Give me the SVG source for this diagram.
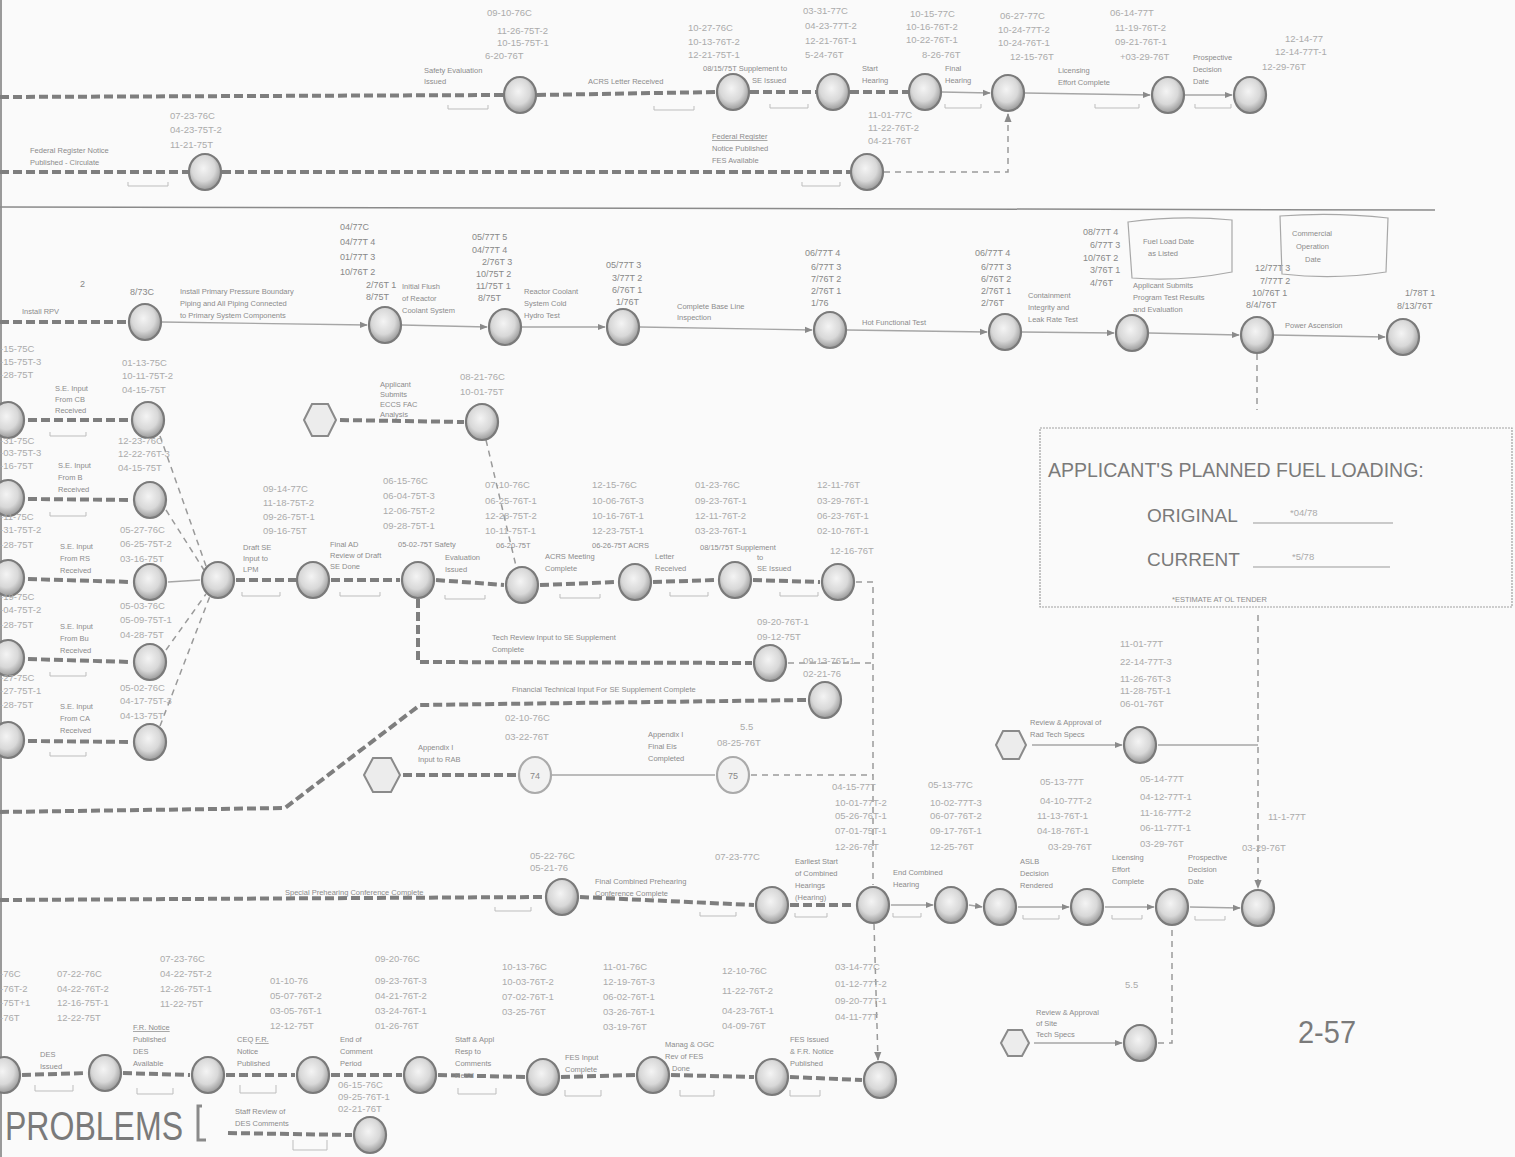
<svg xmlns="http://www.w3.org/2000/svg" width="1515" height="1157" viewBox="0 0 1515 1157">
<defs>
<radialGradient id="g" cx="45%" cy="40%" r="60%">
<stop offset="0" stop-color="#f4f4f4"/><stop offset="0.6" stop-color="#d8d8d8"/><stop offset="1" stop-color="#9a9a9a"/>
</radialGradient>
<marker id="ar" viewBox="0 0 10 10" refX="9" refY="5" markerWidth="6" markerHeight="6" orient="auto"><path d="M0,1 L10,5 L0,9 z" fill="#8a8a8a"/></marker>
<style>
.crit{fill:none;stroke:#7e7e7e;stroke-width:4;stroke-dasharray:9 4}
.thin{fill:none;stroke:#a6a6a6;stroke-width:1.3}
.dsh{fill:none;stroke:#9a9a9a;stroke-width:1.5;stroke-dasharray:6 5}
.br{fill:none;stroke:#bdbdbd;stroke-width:1}
.nd{fill:url(#g);stroke:#7a7a7a;stroke-width:2.2}
.hx{fill:#ececec;stroke:#8a8a8a;stroke-width:2}
.t{font-family:"Liberation Sans",Arial,sans-serif;font-size:7.5px;fill:#8c8c8c}
.d{font-family:"Liberation Sans Narrow","Liberation Sans",Arial,sans-serif;font-size:9.5px;fill:#ababab}
.n{font-family:"Liberation Sans",Arial,sans-serif;font-size:9px;fill:#888}
.big{font-family:"Liberation Sans",Arial,sans-serif;fill:#7a7a7a}
</style>
</defs>
<rect width="1515" height="1157" fill="#fafafa"/>
<line x1="1" y1="0" x2="1" y2="1157" stroke="#9a9a9a" stroke-width="2"/>

<g id="connectors">
<path class="crit" d="M0 97 L503 95"/>
<path class="crit" d="M537 95 L716 92"/>
<path class="crit" d="M750 92 L816 92"/>
<path class="crit" d="M850 92 L908 92"/>
<path class="thin" d="M942 92 L990 93" marker-end="url(#ar)"/>
<path class="thin" d="M1025 93 L1150 95" marker-end="url(#ar)"/>
<path class="thin" d="M1185 95 L1232 95" marker-end="url(#ar)"/>
<path class="crit" d="M0 172 L188 172"/>
<path class="crit" d="M222 172 L850 172"/>
<path class="dsh" d="M884 172 L1008 172 L1008 114" marker-end="url(#ar)"/>
<line x1="0" y1="207" x2="1435" y2="210" stroke="#8a8a8a" stroke-width="1.5"/>
<path class="crit" d="M0 322 L128 322"/>
<path class="thin" d="M162 322 L367 325" marker-end="url(#ar)"/>
<path class="thin" d="M402 325 L487 327" marker-end="url(#ar)"/>
<path class="thin" d="M522 327 L605 327" marker-end="url(#ar)"/>
<path class="thin" d="M640 327 L812 330" marker-end="url(#ar)"/>
<path class="thin" d="M847 330 L987 332" marker-end="url(#ar)"/>
<path class="thin" d="M1022 332 L1114 333" marker-end="url(#ar)"/>
<path class="thin" d="M1149 333 L1239 335" marker-end="url(#ar)"/>
<path class="thin" d="M1274 335 L1385 337" marker-end="url(#ar)"/>
<path class="dsh" d="M1257 354 L1257 410"/>
<path class="dsh" d="M1258 615 L1258 888" marker-end="url(#ar)"/>
<path class="crit" d="M28 420 L130 420"/>
<path class="crit" d="M28 499 L132 500"/>
<path class="crit" d="M28 579 L132 582"/>
<path class="crit" d="M28 659 L132 662"/>
<path class="crit" d="M28 741 L132 742"/>
<path class="dsh" d="M160 436 L206 566"/>
<path class="dsh" d="M166 510 L204 570"/>
<path class="thin" d="M168 582 L200 580"/>
<path class="dsh" d="M166 650 L206 594"/>
<path class="dsh" d="M160 726 L210 596"/>
<path class="crit" d="M236 580 L296 580"/>
<path class="crit" d="M331 580 L400 580"/>
<path class="crit" d="M436 580 L504 585"/>
<path class="crit" d="M540 585 L617 582"/>
<path class="crit" d="M653 582 L717 580"/>
<path class="crit" d="M753 580 L820 582"/>
<path class="dsh" d="M856 582 L873 582 L873 885"/>
<path class="crit" d="M340 420 L464 422"/>
<path class="dsh" d="M486 440 L516 566"/>
<path class="crit" d="M418 599 L418 662 L752 663"/>
<path class="dsh" d="M788 663 L873 663"/>
<path class="crit" d="M0 812 L285 808 L420 705 L806 700"/>
<path class="crit" d="M403 775 L517 775"/>
<path class="thin" d="M552 775 L715 775"/>
<path class="dsh" d="M751 775 L873 775"/>
<path class="thin" d="M1032 745 L1122 745" marker-end="url(#ar)"/>
<path class="thin" d="M1158 745 L1258 745"/>
<path class="thin" d="M1034 1043 L1122 1043" marker-end="url(#ar)"/>
<path class="dsh" d="M1158 1043 L1172 1043 L1172 926"/>
<path class="crit" d="M0 900 L544 897"/>
<path class="crit" d="M580 897 L754 905"/>
<path class="crit" d="M790 905 L855 905"/>
<path class="thin" d="M891 905 L933 905" marker-end="url(#ar)"/>
<path class="thin" d="M969 905 L982 907" marker-end="url(#ar)"/>
<path class="thin" d="M1018 907 L1069 907" marker-end="url(#ar)"/>
<path class="thin" d="M1105 907 L1154 907" marker-end="url(#ar)"/>
<path class="thin" d="M1190 907 L1240 908" marker-end="url(#ar)"/>
<path class="dsh" d="M874 924 L878 1060" marker-end="url(#ar)"/>
<path class="crit" d="M22 1075 L87 1073"/>
<path class="crit" d="M123 1073 L190 1075"/>
<path class="crit" d="M226 1075 L295 1075"/>
<path class="crit" d="M331 1075 L402 1075"/>
<path class="crit" d="M438 1075 L525 1077"/>
<path class="crit" d="M561 1077 L635 1075"/>
<path class="crit" d="M671 1075 L754 1077"/>
<path class="crit" d="M790 1077 L862 1080"/>
<path class="crit" d="M228 1133 L352 1135"/>
</g>

<g id="brackets">
<path class="br" d="M448 105 v4 h40 v-4"/>
<path class="br" d="M654 106 v4 h40 v-4"/>
<path class="br" d="M770 104 v4 h38 v-4"/>
<path class="br" d="M945 104 v4 h36 v-4"/>
<path class="br" d="M1095 104 v4 h44 v-4"/>
<path class="br" d="M1195 104 v4 h36 v-4"/>
<path class="br" d="M128 182 v4 h40 v-4"/>
<path class="br" d="M802 182 v4 h38 v-4"/>
<path class="br" d="M242 592 v4 h38 v-4"/>
<path class="br" d="M340 592 v4 h40 v-4"/>
<path class="br" d="M445 595 v4 h40 v-4"/>
<path class="br" d="M560 594 v4 h40 v-4"/>
<path class="br" d="M670 592 v4 h38 v-4"/>
<path class="br" d="M780 592 v4 h38 v-4"/>
<path class="br" d="M50 432 v4 h36 v-4"/>
<path class="br" d="M50 512 v4 h36 v-4"/>
<path class="br" d="M50 672 v4 h36 v-4"/>
<path class="br" d="M50 752 v4 h36 v-4"/>
<path class="br" d="M495 907 v4 h36 v-4"/>
<path class="br" d="M700 912 v4 h36 v-4"/>
<path class="br" d="M795 913 v4 h32 v-4"/>
<path class="br" d="M893 913 v4 h28 v-4"/>
<path class="br" d="M1023 915 v4 h36 v-4"/>
<path class="br" d="M1112 915 v4 h30 v-4"/>
<path class="br" d="M1195 916 v4 h30 v-4"/>
<path class="br" d="M35 1085 v6 h38 v-6"/>
<path class="br" d="M137 1088 v6 h36 v-6"/>
<path class="br" d="M240 1085 v8 h36 v-8"/>
<path class="br" d="M458 1088 v6 h38 v-6"/>
<path class="br" d="M565 1090 v6 h36 v-6"/>
<path class="br" d="M680 1090 v6 h34 v-6"/>
<path class="br" d="M790 1090 v6 h30 v-6"/>
<path class="br" d="M293 1140 v10 h34 v-10"/>
</g>

<g id="n1a"><ellipse class="nd" cx="520" cy="95" rx="16" ry="18"/>
<text class="d" x="487" y="16">09-10-76C</text><text class="d" x="497" y="34">11-26-75T-2</text><text class="d" x="497" y="46">10-15-75T-1</text><text class="d" x="485" y="59">6-20-76T</text>
<text class="t" x="424" y="73">Safety Evaluation</text><text class="t" x="424" y="84">Issued</text></g>
<g id="n1b"><ellipse class="nd" cx="733" cy="92" rx="16" ry="18"/>
<text class="t" x="588" y="84">ACRS Letter Received</text>
<text class="d" x="688" y="31">10-27-76C</text><text class="d" x="688" y="45">10-13-76T-2</text><text class="d" x="688" y="58">12-21-75T-1</text>
<text class="t" x="703" y="71">08/15/75T Supplement to</text><text class="t" x="752" y="83">SE Issued</text></g>
<g id="n1c"><ellipse class="nd" cx="833" cy="92" rx="16" ry="18"/>
<text class="d" x="803" y="14">03-31-77C</text><text class="d" x="805" y="29">04-23-77T-2</text><text class="d" x="805" y="44">12-21-76T-1</text><text class="d" x="805" y="58">5-24-76T</text>
<text class="t" x="862" y="71">Start</text><text class="t" x="862" y="83">Hearing</text></g>
<g id="n1d"><ellipse class="nd" cx="925" cy="92" rx="16" ry="18"/>
<text class="d" x="910" y="17">10-15-77C</text><text class="d" x="906" y="30">10-16-76T-2</text><text class="d" x="906" y="43">10-22-76T-1</text><text class="d" x="922" y="58">8-26-76T</text>
<text class="t" x="945" y="71">Final</text><text class="t" x="945" y="83">Hearing</text></g>
<g id="n1e"><ellipse class="nd" cx="1008" cy="93" rx="16" ry="18"/>
<text class="d" x="1000" y="19">06-27-77C</text><text class="d" x="998" y="33">10-24-77T-2</text><text class="d" x="998" y="46">10-24-76T-1</text><text class="d" x="1010" y="60">12-15-76T</text>
<text class="t" x="1058" y="73">Licensing</text><text class="t" x="1058" y="85">Effort Complete</text></g>
<g id="n1f"><ellipse class="nd" cx="1168" cy="95" rx="16" ry="18"/>
<text class="d" x="1110" y="16">06-14-77T</text><text class="d" x="1115" y="31">11-19-76T-2</text><text class="d" x="1115" y="45">09-21-76T-1</text><text class="d" x="1120" y="60">+03-29-76T</text>
<text class="t" x="1193" y="60">Prospective</text><text class="t" x="1193" y="72">Decision</text><text class="t" x="1193" y="84">Date</text></g>
<g id="n1g"><ellipse class="nd" cx="1250" cy="95" rx="16" ry="18"/>
<text class="d" x="1285" y="42">12-14-77</text><text class="d" x="1275" y="55">12-14-77T-1</text><text class="d" x="1262" y="70">12-29-76T</text></g>

<g id="n2a"><ellipse class="nd" cx="205" cy="172" rx="16" ry="18"/>
<text class="d" x="170" y="119">07-23-76C</text><text class="d" x="170" y="133">04-23-75T-2</text><text class="d" x="170" y="148">11-21-75T</text>
<text class="t" x="30" y="153">Federal Register Notice</text><text class="t" x="30" y="165">Published - Circulate</text></g>
<g id="n2b"><ellipse class="nd" cx="867" cy="172" rx="16" ry="18"/>
<text class="t" x="712" y="139" text-decoration="underline">Federal Register</text><text class="t" x="712" y="151">Notice Published</text><text class="t" x="712" y="163">FES Available</text>
<text class="d" x="868" y="118">11-01-77C</text><text class="d" x="868" y="131">11-22-76T-2</text><text class="d" x="868" y="144">04-21-76T</text></g>

<g id="n3a"><ellipse class="nd" cx="145" cy="322" rx="16" ry="18"/>
<text class="t" x="22" y="314">Install RPV</text><text class="n" x="80" y="287">2</text><text class="n" x="130" y="295">8/73C</text>
<text class="t" x="180" y="294">Install Primary Pressure Boundary</text><text class="t" x="180" y="306">Piping and All Piping Connected</text><text class="t" x="180" y="318">to Primary System Components</text></g>
<g id="n3b"><ellipse class="nd" cx="385" cy="325" rx="16" ry="18"/>
<text class="n" x="340" y="230">04/77C</text><text class="n" x="340" y="245">04/77T 4</text><text class="n" x="340" y="260">01/77T 3</text><text class="n" x="340" y="275">10/76T 2</text><text class="n" x="366" y="288">2/76T 1</text><text class="n" x="366" y="300">8/75T</text>
<text class="t" x="402" y="289">Initial Flush</text><text class="t" x="402" y="301">of Reactor</text><text class="t" x="402" y="313">Coolant System</text></g>
<g id="n3c"><ellipse class="nd" cx="505" cy="327" rx="16" ry="18"/>
<text class="n" x="472" y="240">05/77T 5</text><text class="n" x="472" y="253">04/77T 4</text><text class="n" x="482" y="265">2/76T 3</text><text class="n" x="476" y="277">10/75T 2</text><text class="n" x="476" y="289">11/75T 1</text><text class="n" x="478" y="301">8/75T</text>
<text class="t" x="524" y="294">Reactor Coolant</text><text class="t" x="524" y="306">System Cold</text><text class="t" x="524" y="318">Hydro Test</text></g>
<g id="n3d"><ellipse class="nd" cx="623" cy="327" rx="16" ry="18"/>
<text class="n" x="606" y="268">05/77T 3</text><text class="n" x="612" y="281">3/77T 2</text><text class="n" x="612" y="293">6/76T 1</text><text class="n" x="616" y="305">1/76T</text>
<text class="t" x="677" y="309">Complete Base Line</text><text class="t" x="677" y="320">Inspection</text></g>
<g id="n3e"><ellipse class="nd" cx="830" cy="330" rx="16" ry="18"/>
<text class="n" x="805" y="256">06/77T 4</text><text class="n" x="811" y="270">6/77T 3</text><text class="n" x="811" y="282">7/76T 2</text><text class="n" x="811" y="294">2/76T 1</text><text class="n" x="811" y="306">1/76</text>
<text class="t" x="862" y="325">Hot Functional Test</text></g>
<g id="n3f"><ellipse class="nd" cx="1005" cy="332" rx="16" ry="18"/>
<text class="n" x="975" y="256">06/77T 4</text><text class="n" x="981" y="270">6/77T 3</text><text class="n" x="981" y="282">6/76T 2</text><text class="n" x="981" y="294">2/76T 1</text><text class="n" x="981" y="306">2/76T</text>
<text class="t" x="1028" y="298">Containment</text><text class="t" x="1028" y="310">Integrity and</text><text class="t" x="1028" y="322">Leak Rate Test</text></g>
<g id="n3g"><ellipse class="nd" cx="1132" cy="333" rx="16" ry="18"/>
<text class="n" x="1083" y="235">08/77T 4</text><text class="n" x="1090" y="248">6/77T 3</text><text class="n" x="1083" y="261">10/76T 2</text><text class="n" x="1090" y="273">3/76T 1</text><text class="n" x="1090" y="286">4/76T</text>
<text class="t" x="1133" y="288">Applicant Submits</text><text class="t" x="1133" y="300">Program Test Results</text><text class="t" x="1133" y="312">and Evaluation</text>
<path d="M1128 222 Q1180 215 1232 220 L1232 272 Q1180 282 1132 278 Z" fill="none" stroke="#a8a8a8" stroke-width="1.2"/>
<text class="t" x="1143" y="244">Fuel Load Date</text><text class="t" x="1148" y="256">as Listed</text></g>
<g id="n3h"><ellipse class="nd" cx="1257" cy="335" rx="16" ry="18"/>
<text class="n" x="1255" y="271">12/77T 3</text><text class="n" x="1260" y="284">7/77T 2</text><text class="n" x="1252" y="296">10/76T 1</text><text class="n" x="1246" y="308">8/4/76T</text>
<text class="t" x="1285" y="328">Power Ascension</text>
<path d="M1280 216 Q1335 212 1388 218 L1386 272 Q1335 280 1282 274 Z" fill="none" stroke="#a8a8a8" stroke-width="1.2"/>
<text class="t" x="1292" y="236">Commercial</text><text class="t" x="1296" y="249">Operation</text><text class="t" x="1305" y="262">Date</text></g>
<g id="n3i"><ellipse class="nd" cx="1403" cy="337" rx="16" ry="18"/>
<text class="n" x="1405" y="296">1/78T 1</text><text class="n" x="1397" y="309">8/13/76T</text></g>

<g id="fuelbox">
<rect x="1040" y="428" width="472" height="179" fill="none" stroke="#a0a0a0" stroke-width="1.2" stroke-dasharray="2 1"/>
<text class="big" x="1048" y="477" font-size="19.5">APPLICANT'S PLANNED FUEL LOADING:</text>
<text class="big" x="1147" y="522" font-size="19">ORIGINAL</text>
<line x1="1253" y1="523" x2="1393" y2="523" stroke="#999" stroke-width="1"/>
<text class="d" x="1290" y="516">*04/78</text>
<text class="big" x="1147" y="566" font-size="19">CURRENT</text>
<line x1="1253" y1="567" x2="1390" y2="567" stroke="#999" stroke-width="1"/>
<text class="d" x="1292" y="560">*5/78</text>
<text class="t" x="1172" y="602">*ESTIMATE AT OL TENDER</text>
</g>

<g id="L1a"><ellipse class="nd" cx="8" cy="420" rx="16" ry="18"/>
<text class="d" x="0" y="352">-15-75C</text><text class="d" x="0" y="365">-15-75T-3</text><text class="d" x="0" y="378">-28-75T</text>
<text class="t" x="55" y="391">S.E. Input</text><text class="t" x="55" y="402">From CB</text><text class="t" x="55" y="413">Received</text></g>
<g id="L1b"><ellipse class="nd" cx="148" cy="420" rx="16" ry="18"/>
<text class="d" x="122" y="366">01-13-75C</text><text class="d" x="122" y="379">10-11-75T-2</text><text class="d" x="122" y="393">04-15-75T</text></g>
<g id="L2a"><ellipse class="nd" cx="8" cy="498" rx="16" ry="18"/>
<text class="d" x="0" y="444">-31-75C</text><text class="d" x="0" y="456">-03-75T-3</text><text class="d" x="0" y="469">-16-75T</text>
<text class="t" x="58" y="468">S.E. Input</text><text class="t" x="58" y="480">From B</text><text class="t" x="58" y="492">Received</text></g>
<g id="L2b"><ellipse class="nd" cx="150" cy="500" rx="16" ry="18"/>
<text class="d" x="118" y="444">12-23-76C</text><text class="d" x="118" y="457">12-22-76T-3</text><text class="d" x="118" y="471">04-15-75T</text></g>
<g id="L3a"><ellipse class="nd" cx="8" cy="578" rx="16" ry="18"/>
<text class="d" x="0" y="520">-11-75C</text><text class="d" x="0" y="533">-31-75T-2</text><text class="d" x="0" y="548">-28-75T</text>
<text class="t" x="60" y="549">S.E. Input</text><text class="t" x="60" y="561">From RS</text><text class="t" x="60" y="573">Received</text></g>
<g id="L3b"><ellipse class="nd" cx="150" cy="582" rx="16" ry="18"/>
<text class="d" x="120" y="533">05-27-76C</text><text class="d" x="120" y="547">06-25-75T-2</text><text class="d" x="120" y="562">03-16-75T</text></g>
<g id="L4a"><ellipse class="nd" cx="8" cy="658" rx="16" ry="18"/>
<text class="d" x="0" y="600">-19-75C</text><text class="d" x="0" y="613">-04-75T-2</text><text class="d" x="0" y="628">-28-75T</text>
<text class="t" x="60" y="629">S.E. Input</text><text class="t" x="60" y="641">From Bu</text><text class="t" x="60" y="653">Received</text></g>
<g id="L4b"><ellipse class="nd" cx="150" cy="662" rx="16" ry="18"/>
<text class="d" x="120" y="609">05-03-76C</text><text class="d" x="120" y="623">05-09-75T-1</text><text class="d" x="120" y="638">04-28-75T</text></g>
<g id="L5a"><ellipse class="nd" cx="8" cy="740" rx="16" ry="18"/>
<text class="d" x="0" y="681">-27-75C</text><text class="d" x="0" y="694">-27-75T-1</text><text class="d" x="0" y="708">-28-75T</text>
<text class="t" x="60" y="709">S.E. Input</text><text class="t" x="60" y="721">From CA</text><text class="t" x="60" y="733">Received</text></g>
<g id="L5b"><ellipse class="nd" cx="150" cy="742" rx="16" ry="18"/>
<text class="d" x="120" y="691">05-02-76C</text><text class="d" x="120" y="704">04-17-75T-3</text><text class="d" x="120" y="719">04-13-75T</text></g>

<g id="m1"><ellipse class="nd" cx="218" cy="580" rx="16" ry="18"/>
<text class="t" x="243" y="550">Draft SE</text><text class="t" x="243" y="561">Input to</text><text class="t" x="243" y="572">LPM</text></g>
<g id="m2"><ellipse class="nd" cx="313" cy="580" rx="16" ry="18"/>
<text class="d" x="263" y="492">09-14-77C</text><text class="d" x="263" y="506">11-18-75T-2</text><text class="d" x="263" y="520">09-26-75T-1</text><text class="d" x="263" y="534">09-16-75T</text>
<text class="t" x="330" y="547">Final AD</text><text class="t" x="330" y="558">Review of Draft</text><text class="t" x="330" y="569">SE Done</text></g>
<g id="m3"><ellipse class="nd" cx="418" cy="580" rx="16" ry="18"/>
<text class="d" x="383" y="484">06-15-76C</text><text class="d" x="383" y="499">06-04-75T-3</text><text class="d" x="383" y="514">12-06-75T-2</text><text class="d" x="383" y="529">09-28-75T-1</text>
<text class="t" x="398" y="547">05-02-75T Safety</text><text class="t" x="445" y="560">Evaluation</text><text class="t" x="445" y="572">Issued</text></g>
<g id="m4"><ellipse class="nd" cx="522" cy="585" rx="16" ry="18"/>
<text class="d" x="485" y="488">07-10-76C</text><text class="d" x="485" y="504">06-25-76T-1</text><text class="d" x="485" y="519">12-28-75T-2</text><text class="d" x="485" y="534">10-11-75T-1</text>
<text class="t" x="496" y="548">06-20-75T</text>
<text class="t" x="545" y="559">ACRS Meeting</text><text class="t" x="545" y="571">Complete</text></g>
<g id="m5"><ellipse class="nd" cx="635" cy="582" rx="16" ry="18"/>
<text class="d" x="592" y="488">12-15-76C</text><text class="d" x="592" y="504">10-06-76T-3</text><text class="d" x="592" y="519">10-16-76T-1</text><text class="d" x="592" y="534">12-23-75T-1</text>
<text class="t" x="592" y="548">06-26-75T ACRS</text><text class="t" x="655" y="559">Letter</text><text class="t" x="655" y="571">Received</text></g>
<g id="m6"><ellipse class="nd" cx="735" cy="580" rx="16" ry="18"/>
<text class="d" x="695" y="488">01-23-76C</text><text class="d" x="695" y="504">09-23-76T-1</text><text class="d" x="695" y="519">12-11-76T-2</text><text class="d" x="695" y="534">03-23-76T-1</text>
<text class="t" x="700" y="550">08/15/75T Supplement</text><text class="t" x="757" y="560">to</text><text class="t" x="757" y="571">SE Issued</text></g>
<g id="m7"><ellipse class="nd" cx="838" cy="582" rx="16" ry="18"/>
<text class="d" x="817" y="488">12-11-76T</text><text class="d" x="817" y="504">03-29-76T-1</text><text class="d" x="817" y="519">06-23-76T-1</text><text class="d" x="817" y="534">02-10-76T-1</text><text class="d" x="830" y="554">12-16-76T</text></g>
<g id="h1"><polygon class="hx" points="304,420 312,404 328,404 336,420 328,436 312,436"/>
<text class="t" x="380" y="387">Applicant</text><text class="t" x="380" y="397">Submits</text><text class="t" x="380" y="407">ECCS FAC</text><text class="t" x="380" y="417">Analysis</text></g>
<g id="m8"><ellipse class="nd" cx="482" cy="422" rx="16" ry="18"/>
<text class="d" x="460" y="380">08-21-76C</text><text class="d" x="460" y="395">10-01-75T</text></g>
<g id="m9"><ellipse class="nd" cx="770" cy="663" rx="16" ry="18"/>
<text class="t" x="492" y="640">Tech Review Input to SE Supplement</text><text class="t" x="492" y="652">Complete</text>
<text class="d" x="757" y="625">09-20-76T-1</text><text class="d" x="757" y="640">09-12-75T</text>
<text class="d" x="803" y="664">09-13-76T-1</text><text class="d" x="803" y="677">02-21-76</text></g>
<g id="m10"><ellipse class="nd" cx="825" cy="700" rx="16" ry="18"/>
<text class="t" x="512" y="692">Financial Technical Input For SE Supplement Complete</text></g>
<g id="h2"><polygon class="hx" points="364,775 373,758 391,758 400,775 391,792 373,792"/>
<text class="t" x="418" y="750">Appendix I</text><text class="t" x="418" y="762">Input to RAB</text></g>
<g id="m11"><ellipse class="nd" cx="535" cy="775" rx="16" ry="18" style="fill:#f2f2f2;stroke:#aaa"/>
<text class="n" x="530" y="779">74</text>
<text class="d" x="505" y="721">02-10-76C</text><text class="d" x="505" y="740">03-22-76T</text></g>
<g id="m12"><ellipse class="nd" cx="733" cy="775" rx="16" ry="18" style="fill:#f2f2f2;stroke:#aaa"/>
<text class="n" x="728" y="779">75</text>
<text class="t" x="648" y="737">Appendix I</text><text class="t" x="648" y="749">Final Eis</text><text class="t" x="648" y="761">Completed</text>
<text class="d" x="740" y="730">5.5</text><text class="d" x="717" y="746">08-25-76T</text></g>

<g id="h3"><polygon class="hx" points="996,745 1003,731 1019,731 1026,745 1019,759 1003,759"/>
<text class="t" x="1030" y="725">Review &amp; Approval of</text><text class="t" x="1030" y="737">Rad Tech Specs</text></g>
<g id="r1"><ellipse class="nd" cx="1140" cy="745" rx="16" ry="18"/>
<text class="d" x="1120" y="647">11-01-77T</text><text class="d" x="1120" y="665">22-14-77T-3</text><text class="d" x="1120" y="682">11-26-76T-3</text><text class="d" x="1120" y="694">11-28-75T-1</text><text class="d" x="1120" y="707">06-01-76T</text></g>
<g id="h4"><polygon class="hx" points="1001,1043 1008,1030 1022,1030 1029,1043 1022,1056 1008,1056"/>
<text class="d" x="1125" y="988">5.5</text>
<text class="t" x="1036" y="1015">Review &amp; Approval</text><text class="t" x="1036" y="1026">of Site</text><text class="t" x="1036" y="1037">Tech Specs</text></g>
<g id="r2"><ellipse class="nd" cx="1140" cy="1043" rx="16" ry="18"/></g>

<g id="b1"><ellipse class="nd" cx="562" cy="897" rx="16" ry="18"/>
<text class="t" x="285" y="895">Special Prehearing Conference Complete</text>
<text class="d" x="530" y="859">05-22-76C</text><text class="d" x="530" y="871">05-21-76</text></g>
<g id="b2"><ellipse class="nd" cx="772" cy="905" rx="16" ry="18"/>
<text class="t" x="595" y="884">Final Combined Prehearing</text><text class="t" x="595" y="896">Conference Complete</text>
<text class="d" x="715" y="860">07-23-77C</text></g>
<g id="b3"><ellipse class="nd" cx="873" cy="905" rx="16" ry="18"/>
<text class="t" x="795" y="864">Earliest Start</text><text class="t" x="795" y="876">of Combined</text><text class="t" x="795" y="888">Hearings</text><text class="t" x="795" y="900">(Hearing)</text>
<text class="d" x="832" y="790">04-15-77T</text><text class="d" x="835" y="806">10-01-77T-2</text><text class="d" x="835" y="819">05-26-76T-1</text><text class="d" x="835" y="834">07-01-75T-1</text><text class="d" x="835" y="850">12-26-76T</text></g>
<g id="b4"><ellipse class="nd" cx="951" cy="905" rx="16" ry="18"/>
<text class="t" x="893" y="875">End Combined</text><text class="t" x="893" y="887">Hearing</text>
<text class="d" x="928" y="788">05-13-77C</text><text class="d" x="930" y="806">10-02-77T-3</text><text class="d" x="930" y="819">06-07-76T-2</text><text class="d" x="930" y="834">09-17-76T-1</text><text class="d" x="930" y="850">12-25-76T</text></g>
<g id="b5"><ellipse class="nd" cx="1000" cy="907" rx="16" ry="18"/>
<text class="t" x="1020" y="864">ASLB</text><text class="t" x="1020" y="876">Decision</text><text class="t" x="1020" y="888">Rendered</text></g>
<g id="b6"><ellipse class="nd" cx="1087" cy="907" rx="16" ry="18"/>
<text class="d" x="1040" y="785">05-13-77T</text><text class="d" x="1040" y="804">04-10-77T-2</text><text class="d" x="1037" y="819">11-13-76T-1</text><text class="d" x="1037" y="834">04-18-76T-1</text><text class="d" x="1048" y="850">03-29-76T</text>
<text class="t" x="1112" y="860">Licensing</text><text class="t" x="1112" y="872">Effort</text><text class="t" x="1112" y="884">Complete</text></g>
<g id="b7"><ellipse class="nd" cx="1172" cy="907" rx="16" ry="18"/>
<text class="d" x="1140" y="782">05-14-77T</text><text class="d" x="1140" y="800">04-12-77T-1</text><text class="d" x="1140" y="816">11-16-77T-2</text><text class="d" x="1140" y="831">06-11-77T-1</text><text class="d" x="1140" y="847">03-29-76T</text>
<text class="t" x="1188" y="860">Prospective</text><text class="t" x="1188" y="872">Decision</text><text class="t" x="1188" y="884">Date</text></g>
<g id="b8"><ellipse class="nd" cx="1258" cy="908" rx="16" ry="18"/>
<text class="d" x="1268" y="820">11-1-77T</text><text class="d" x="1242" y="851">03-29-76T</text></g>

<g id="c0"><ellipse class="nd" cx="4" cy="1075" rx="16" ry="18"/>
<text class="d" x="0" y="977">-76C</text><text class="d" x="0" y="992">-76T-2</text><text class="d" x="0" y="1006">-75T+1</text><text class="d" x="0" y="1021">-76T</text>
<text class="t" x="40" y="1057">DES</text><text class="t" x="40" y="1069">Issued</text></g>
<g id="c1"><ellipse class="nd" cx="105" cy="1073" rx="16" ry="18"/>
<text class="d" x="57" y="977">07-22-76C</text><text class="d" x="57" y="992">04-22-76T-2</text><text class="d" x="57" y="1006">12-16-75T-1</text><text class="d" x="57" y="1021">12-22-75T</text>
<text class="t" x="133" y="1030" text-decoration="underline">F.R. Notice</text><text class="t" x="133" y="1042">Published</text><text class="t" x="133" y="1054">DES</text><text class="t" x="133" y="1066">Available</text></g>
<g id="c2"><ellipse class="nd" cx="208" cy="1075" rx="16" ry="18"/>
<text class="d" x="160" y="962">07-23-76C</text><text class="d" x="160" y="977">04-22-75T-2</text><text class="d" x="160" y="992">12-26-75T-1</text><text class="d" x="160" y="1007">11-22-75T</text>
<text class="t" x="237" y="1042">CEQ <tspan text-decoration="underline">F.R.</tspan></text><text class="t" x="237" y="1054">Notice</text><text class="t" x="237" y="1066">Published</text></g>
<g id="c3"><ellipse class="nd" cx="313" cy="1075" rx="16" ry="18"/>
<text class="d" x="270" y="984">01-10-76</text><text class="d" x="270" y="999">05-07-76T-2</text><text class="d" x="270" y="1014">03-05-76T-1</text><text class="d" x="270" y="1029">12-12-75T</text>
<text class="t" x="340" y="1042">End of</text><text class="t" x="340" y="1054">Comment</text><text class="t" x="340" y="1066">Period</text>
<text class="d" x="338" y="1088">06-15-76C</text><text class="d" x="338" y="1100">09-25-76T-1</text><text class="d" x="338" y="1112">02-21-76T</text></g>
<g id="c4"><ellipse class="nd" cx="420" cy="1075" rx="16" ry="18"/>
<text class="d" x="375" y="962">09-20-76C</text><text class="d" x="375" y="984">09-23-76T-3</text><text class="d" x="375" y="999">04-21-76T-2</text><text class="d" x="375" y="1014">03-24-76T-1</text><text class="d" x="375" y="1029">01-26-76T</text>
<text class="t" x="455" y="1042">Staff &amp; Appl</text><text class="t" x="455" y="1054">Resp to</text><text class="t" x="455" y="1066">Comments</text><text class="t" x="455" y="1078">Rec'd</text></g>
<g id="c5"><ellipse class="nd" cx="543" cy="1077" rx="16" ry="18"/>
<text class="d" x="502" y="970">10-13-76C</text><text class="d" x="502" y="985">10-03-76T-2</text><text class="d" x="502" y="1000">07-02-76T-1</text><text class="d" x="502" y="1015">03-25-76T</text>
<text class="t" x="565" y="1060">FES Input</text><text class="t" x="565" y="1072">Complete</text></g>
<g id="c6"><ellipse class="nd" cx="653" cy="1075" rx="16" ry="18"/>
<text class="d" x="603" y="970">11-01-76C</text><text class="d" x="603" y="985">12-19-76T-3</text><text class="d" x="603" y="1000">06-02-76T-1</text><text class="d" x="603" y="1015">03-26-76T-1</text><text class="d" x="603" y="1030">03-19-76T</text>
<text class="t" x="665" y="1047">Manag &amp; OGC</text><text class="t" x="665" y="1059">Rev of FES</text><text class="t" x="672" y="1071">Done</text></g>
<g id="c7"><ellipse class="nd" cx="772" cy="1077" rx="16" ry="18"/>
<text class="d" x="722" y="974">12-10-76C</text><text class="d" x="722" y="994">11-22-76T-2</text><text class="d" x="722" y="1014">04-23-76T-1</text><text class="d" x="722" y="1029">04-09-76T</text>
<text class="t" x="790" y="1042">FES Issued</text><text class="t" x="790" y="1054">&amp; F.R. Notice</text><text class="t" x="790" y="1066">Published</text></g>
<g id="c8"><ellipse class="nd" cx="880" cy="1080" rx="16" ry="18"/>
<text class="d" x="835" y="970">03-14-77C</text><text class="d" x="835" y="987">01-12-77T-2</text><text class="d" x="835" y="1004">09-20-77T-1</text><text class="d" x="835" y="1020">04-11-77T</text></g>
<g id="c9"><ellipse class="nd" cx="370" cy="1135" rx="16" ry="18"/>
<text class="t" x="235" y="1114">Staff Review of</text><text class="t" x="235" y="1126">DES Comments</text></g>

<g id="labels">
<text class="big" x="5" y="1140" font-size="40" style="font-family:'Liberation Sans Narrow','Liberation Sans',sans-serif" textLength="178" lengthAdjust="spacingAndGlyphs">PROBLEMS</text>
<path d="M202 1106 L198 1106 L198 1140 L206 1140" fill="none" stroke="#8a8a8a" stroke-width="3"/>
<text class="big" x="1298" y="1043" font-size="32" style="font-family:'Liberation Sans Narrow','Liberation Sans',sans-serif" textLength="58" lengthAdjust="spacingAndGlyphs">2-57</text>
</g>
</svg>
